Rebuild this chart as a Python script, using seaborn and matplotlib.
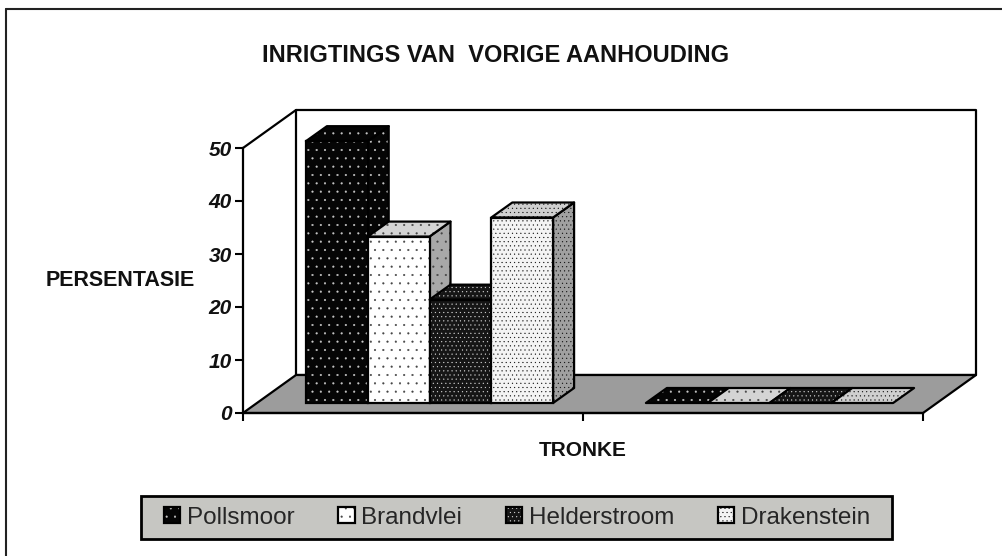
import pandas as pd
import seaborn as sns
import matplotlib.pyplot as plt
from matplotlib.colors import to_rgba
from matplotlib.lines import Line2D
from matplotlib.patches import Polygon, Rectangle
from matplotlib.transforms import Affine2D

# values
tronke = ['A', 'B']
pollsmoor = [49.4, 0]
brandvlei = [31.4, 0]
helderstroom = [19.5, 0]
drakenstein = [35.0, 0]
names = ['Pollsmoor', 'Brandvlei', 'Helderstroom', 'Drakenstein']
y_ticks = [0, 10, 20, 30, 40, 50]

df = pd.DataFrame({
    'tronk': tronke * 4,
    'inrigting': [n for n in names for _ in tronke],
    'persentasie': pollsmoor + brandvlei + helderstroom + drakenstein,
})

# look of each series: front, side and top face, dot colour and dot density
front_col = ['#050505', '#ffffff', '#161616', '#f4f4f4']
side_col = ['#050505', '#a8a8a8', '#161616', '#a0a0a0']
top_col = ['#050505', '#d4d4d4', '#161616', '#cfcfcf']
dot_col = ['#c8c8c8', '#444444', '#d8d8d8', '#111111']
dots = ['..', '..', '....', '....']

W, H = 1002, 556
sns.set_theme(style='white')
plt.rcParams['font.family'] = ['Liberation Sans', 'DejaVu Sans']
plt.rcParams['hatch.linewidth'] = 0.3

fig = plt.figure(figsize=(W / 100, H / 100), dpi=100, facecolor='white')
ax = fig.add_axes([243 / W, (H - 413) / H, 680 / W, 265 / H])
ax.patch.set_visible(False)

sns.barplot(data=df, x='tronk', y='persentasie', hue='inrigting', hue_order=names,
            palette=front_col, width=0.727, gap=0, saturation=1, ax=ax, legend=True)
ax.set_xlim(-0.5, 1.5)
ax.set_ylim(0, 50)


def shifted(dx, dy):
    return ax.transData + Affine2D().translate(dx, dy)


def face(points, tr, fc, z, hatch=None, hatch_col=None, lw=1.6):
    p = Polygon(points, closed=True, facecolor=fc, edgecolor='black', linewidth=lw,
                transform=tr, clip_on=False, zorder=z, joinstyle='round')
    if hatch:
        p.set_hatch(hatch)
        p._hatch_color = to_rgba(hatch_col)
    ax.add_patch(p)


# walls and floor, depth in pixels
depth_x, depth_y = 53, 38
x0, x1 = ax.get_xlim()
y0, y1 = ax.get_ylim()
back = shifted(depth_x, depth_y)
face([(x0, y0), (x1, y0), (x1, y1), (x0, y1)], back, 'white', 1)
top_left = ax.transData.transform((x0, y1))
fig.add_artist(Line2D([top_left[0] / W, (top_left[0] + depth_x) / W],
                      [top_left[1] / H, (top_left[1] + depth_y) / H], color='black', lw=1.6))
floor_pts = ax.transData.transform([(x0, y0), (x1, y0)])
floor = [tuple(floor_pts[0]), tuple(floor_pts[1]),
         (floor_pts[1][0] + depth_x, floor_pts[1][1] + depth_y),
         (floor_pts[0][0] + depth_x, floor_pts[0][1] + depth_y)]
face(floor, Affine2D(), '#9c9c9c', 1.5)

# the bars stand a little behind the front edge, each with side and top
bar_plane = shifted(16.5, 10)
bar_x, bar_y = 21, 15
z = 3
for i, bars in enumerate(ax.containers):
    for b in bars:
        left, right = b.get_x(), b.get_x() + b.get_width()
        h = b.get_height()
        corners = bar_plane.transform([(left, 0), (right, 0), (right, h), (left, h)])
        (xa, ya), (xb, yb), (xc, yc), (xd, yd) = corners
        if h > 0:
            face([(xb, yb), (xb + bar_x, yb + bar_y), (xc + bar_x, yc + bar_y), (xc, yc)],
                 Affine2D(), side_col[i], z, dots[i], dot_col[i])
        face([(xd, yd), (xc, yc), (xc + bar_x, yc + bar_y), (xd + bar_x, yd + bar_y)],
             Affine2D(), top_col[i], z + 0.1, dots[i], dot_col[i])
        b.set_transform(bar_plane)
        b.set_clip_on(False)
        b.set_zorder(z + 0.2)
        b.set_edgecolor('black')
        b.set_linewidth(1.6)
        b.set_hatch(dots[i])
        b._hatch_color = to_rgba(dot_col[i])
        if h == 0:
            b.set_visible(False)
        z += 1

# axes
sns.despine(ax=ax, top=True, right=True)
for s in ['left', 'bottom']:
    ax.spines[s].set_linewidth(1.6)
    ax.spines[s].set_color('black')
    ax.spines[s].set_zorder(2)
ax.set_yticks(y_ticks)
ax.set_xticks([-0.5, 0.5, 1.5], labels=['', '', ''])
ax.tick_params(axis='both', which='major', length=6, width=1.5, color='black', left=True, bottom=True)
ax.tick_params(axis='y', pad=2)
for t in ax.get_yticklabels():
    t.set_fontsize(15)
    t.set_fontweight('bold')
    t.set_fontstyle('italic')
    t.set_color('#111111')

ax.set_title('INRIGTINGS VAN  VORIGE AANHOUDING', fontsize=17, fontweight='bold', color='#111111',
             x=(496 - 243) / 680, y=(413 - 55) / 265, va='center', pad=0)
ax.set_xlabel('TRONKE', fontsize=15, fontweight='bold', color='#111111')
ax.xaxis.set_label_coords((583 - 243) / 680, (413 - 450) / 265)
ax.xaxis.label.set_va('center')
ax.set_ylabel('PERSENTASIE', fontsize=15.5, fontweight='bold', color='#111111', rotation=0,
              ha='center', va='center')
ax.yaxis.set_label_coords((120 - 243) / 680, (413 - 280) / 265)

# legend, its box is wider than the entries
sns.move_legend(ax, 'center', bbox_to_anchor=(517 / W, (H - 517.5) / H), bbox_transform=fig.transFigure,
                ncols=4, title=None, frameon=False, fontsize=17.5, handlelength=0.68, handleheight=0.68,
                handletextpad=0.28, columnspacing=1.79, borderpad=0)
leg = ax.get_legend()
leg.set_zorder(20)
for i, p in enumerate(leg.get_patches()):
    p.set_edgecolor('black')
    p.set_linewidth(1.6)
    p.set_hatch(dots[i])
    p._hatch_color = to_rgba(dot_col[i])
ax.add_patch(Rectangle((141 / W, (H - 539) / H), 751 / W, 43 / H, transform=fig.transFigure, clip_on=False,
                       facecolor='#c6c6c2', edgecolor='black', linewidth=2, zorder=19))

# scanned page frame: only top and left show
fig.add_artist(Line2D([6 / W, 1], [(H - 9) / H, (H - 9) / H], color='#222222', lw=1.5))
fig.add_artist(Line2D([6 / W, 6 / W], [0, (H - 9) / H], color='#222222', lw=1.5))

fig.savefig('out.png', dpi=100)
